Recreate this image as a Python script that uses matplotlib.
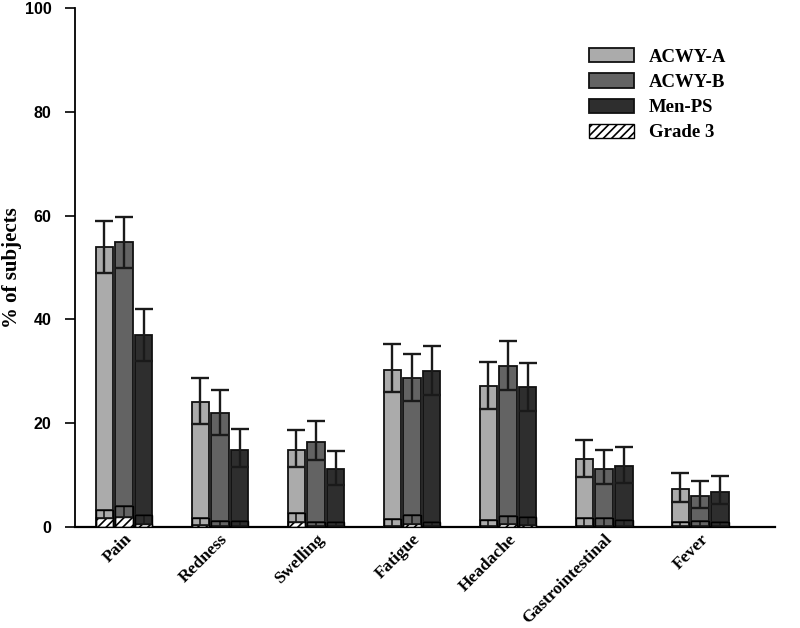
import matplotlib
matplotlib.use("Agg")
import matplotlib.pyplot as plt
import numpy as np

categories = ["Pain", "Redness", "Swelling", "Fatigue", "Headache", "Gastrointestinal", "Fever"]
groups = ["ACWY-A", "ACWY-B", "Men-PS"]

# overall % of subjects, lower CI, upper CI
acwy_a = [54.0, 24.0, 14.8, 30.2, 27.2, 13.0, 7.3]
acwy_a_lo = [49.0, 19.9, 11.5, 25.9, 22.7, 9.7, 4.8]
acwy_a_hi = [59.0, 28.6, 18.7, 35.3, 31.8, 16.7, 10.3]

acwy_b = [54.8, 21.9, 16.4, 28.7, 31.0, 11.2, 5.9]
acwy_b_lo = [49.8, 17.8, 12.8, 24.3, 26.3, 8.2, 3.7]
acwy_b_hi = [59.8, 26.3, 20.5, 33.4, 35.8, 14.8, 8.9]

men_ps = [36.9, 14.9, 11.1, 30.0, 26.9, 11.8, 6.8]
men_ps_lo = [32.0, 11.6, 8.1, 25.4, 22.4, 8.5, 4.5]
men_ps_hi = [41.9, 18.8, 14.6, 34.8, 31.6, 15.4, 9.8]

# Grade 3 %, and upper CI
g3_a = [1.7, 0.3, 1.0, 0.2, 0.2, 0.2, 0.1]
g3_a_hi = [3.3, 1.8, 2.6, 1.5, 1.35, 1.8, 1.0]
g3_b = [2.0, 0.2, 0.2, 0.5, 0.5, 0.2, 0.1]
g3_b_hi = [4.0, 1.1, 1.0, 2.3, 2.1, 1.8, 1.1]
g3_c = [0.5, 0.2, 0.2, 0.2, 0.3, 0.2, 0.1]
g3_c_hi = [2.2, 1.1, 1.0, 1.0, 1.9, 1.4, 1.0]

colors = ["#ababab", "#636363", "#2e2e2e"]

plt.rcParams['hatch.linewidth'] = 1.2
fig = plt.figure(figsize=(8.0, 6.28), dpi=100)
ax = fig.add_axes([0.09375, 0.161, 0.875, 0.8264])

x = np.arange(len(categories))
width = 0.182
step = 0.205
cap = 6.3

series = [
    (acwy_a, acwy_a_lo, acwy_a_hi, g3_a, g3_a_hi),
    (acwy_b, acwy_b_lo, acwy_b_hi, g3_b, g3_b_hi),
    (men_ps, men_ps_lo, men_ps_hi, g3_c, g3_c_hi),
]

for i, (v, lo, hi, g, ghi) in enumerate(series):
    pos = x + (i - 1) * step
    v = np.array(v); lo = np.array(lo); hi = np.array(hi)
    g = np.array(g); ghi = np.array(ghi)
    ax.bar(pos, v, width, color=colors[i], edgecolor="#111111", linewidth=1.3,
           label=groups[i], zorder=2)
    ax.errorbar(pos, v, yerr=[v - lo, hi - v], fmt="none", ecolor="#1a1a1a",
                elinewidth=1.7, capsize=cap, capthick=1.7, zorder=3)
    ax.bar(pos, g, width, color="white", edgecolor="black", hatch="////",
           linewidth=1.0, zorder=4)
    ax.errorbar(pos, g, yerr=[np.zeros_like(g), ghi - g], fmt="none",
                ecolor="#1a1a1a", elinewidth=1.2, capsize=cap, capthick=1.2, zorder=5)
    ax.bar(pos, ghi, width, fill=False, edgecolor="black", linewidth=1.0, zorder=5)

# legend handle for Grade 3
ax.bar([np.nan], [np.nan], width, color="white", edgecolor="black", hatch="////",
       linewidth=1.0, label="Grade 3")

ax.set_xlim(-0.51, 6.78)
ax.set_ylim(0, 100)
ax.set_yticks([0, 20, 40, 60, 80, 100])
ax.set_xticks(x)
ax.set_xticklabels(categories, rotation=45, ha="right", va="top",
                   rotation_mode="anchor", family="Liberation Serif",
                   fontweight="bold", fontsize=12.5)
ax.tick_params(axis="x", length=0, pad=3)
ax.tick_params(axis="y", direction="out", length=7, width=1.2, labelsize=11.5, pad=10)
for lab in ax.get_yticklabels():
    lab.set_fontfamily("Liberation Sans")
    lab.set_fontweight("bold")
ax.spines["top"].set_visible(False)
ax.spines["right"].set_visible(False)
ax.spines["left"].set_linewidth(1.3)
ax.spines["bottom"].set_linewidth(1.6)
ax.set_ylabel("% of subjects", family="Liberation Serif", fontweight="bold",
              fontsize=15)
ax.yaxis.set_label_coords(-0.075, 0.5)

leg = ax.legend(loc="upper right", bbox_to_anchor=(0.954, 0.955), frameon=False,
                prop={"family": "Liberation Serif", "weight": "bold", "size": 13.5},
                handlelength=2.4, handleheight=0.8, labelspacing=0.4,
                handletextpad=0.8)

fig.savefig("out.png", dpi=100)
